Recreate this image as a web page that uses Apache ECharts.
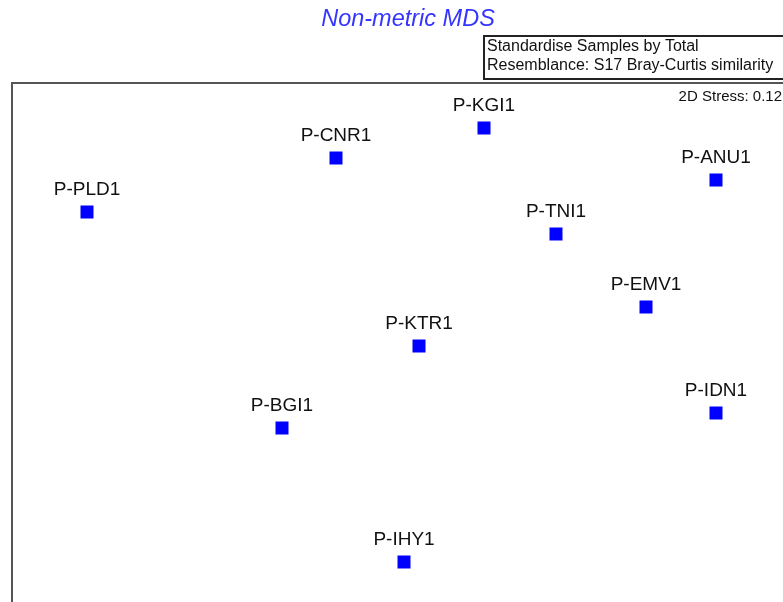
<!DOCTYPE html>
<html>
<head>
<meta charset="utf-8">
<script src="https://cdn.jsdelivr.net/npm/echarts@6/dist/echarts.min.js"></script>
<style>
html,body{margin:0;padding:0;background:#fff;}
#chart{width:783px;height:602px;}
</style>
</head>
<body>
<div id="chart"></div>
<script>
const sampleNames = ['P-PLD1','P-CNR1','P-KGI1','P-ANU1','P-TNI1','P-EMV1','P-KTR1','P-IDN1','P-BGI1','P-IHY1'];
const mds1 = [-1.575, -0.33, 0.41, 1.57, 0.77, 1.22, 0.085, 1.57, -0.60, 0.01];
const mds2 = [0.68, 0.95, 1.10, 0.84, 0.57, 0.205, 0.01, -0.325, -0.40, -1.07];
const titleText = 'Non-metric MDS';
const infoLines = ['Standardise Samples by Total', 'Resemblance: S17 Bray-Curtis similarity'];
const stressText = '2D Stress: 0.12';

const points = sampleNames.map((n, i) => ({ name: n, value: [mds1[i], mds2[i]] }));
const frameLine = { show: true, onZero: false, lineStyle: { color: '#555', width: 2 } };

const chart = echarts.init(document.getElementById('chart'), null, { renderer: 'canvas' });
chart.setOption({
  animation: false,
  backgroundColor: '#fff',
  title: {
    text: titleText,
    left: 403, top: 3, textAlign: 'center',
    textStyle: { color: '#3535ff', fontStyle: 'italic', fontWeight: 'normal', fontSize: 23.5, fontFamily: 'Liberation Sans, Arial, sans-serif' }
  },
  grid: { left: 12, top: 83, right: 0, bottom: 0, outerBoundsMode: 'none', containLabel: false },
  xAxis: {
    type: 'value', min: -1.95, max: 1.905, position: 'top',
    axisLine: frameLine, axisTick: { show: false }, axisLabel: { show: false }, splitLine: { show: false }
  },
  yAxis: {
    type: 'value', min: -1.27, max: 1.325, position: 'left',
    axisLine: frameLine, axisTick: { show: false }, axisLabel: { show: false }, splitLine: { show: false }
  },
  graphic: [
    {
      type: 'rect', left: 483, top: 35, z: 10,
      shape: { width: 320, height: 43 },
      style: { fill: '#fff', stroke: '#222', lineWidth: 2 }
    },
    {
      type: 'text', left: 487, top: 37, z: 11,
      style: { text: infoLines.join('\n'), fill: '#111', font: '16px "Liberation Sans", Arial, sans-serif', lineHeight: 19 }
    },
    {
      type: 'text', right: 1, top: 89, z: 11,
      style: { text: stressText, fill: '#111', font: '15px "Liberation Sans", Arial, sans-serif' }
    }
  ],
  series: [{
    type: 'scatter',
    symbol: 'rect',
    symbolSize: 13,
    itemStyle: { color: '#0000ff', opacity: 1 },
    data: points,
    label: {
      show: true, position: 'top', distance: 6,
      formatter: p => p.name,
      color: '#111', fontSize: 19, fontFamily: 'Liberation Sans, Arial, sans-serif'
    }
  }]
});
</script>
</body>
</html>
